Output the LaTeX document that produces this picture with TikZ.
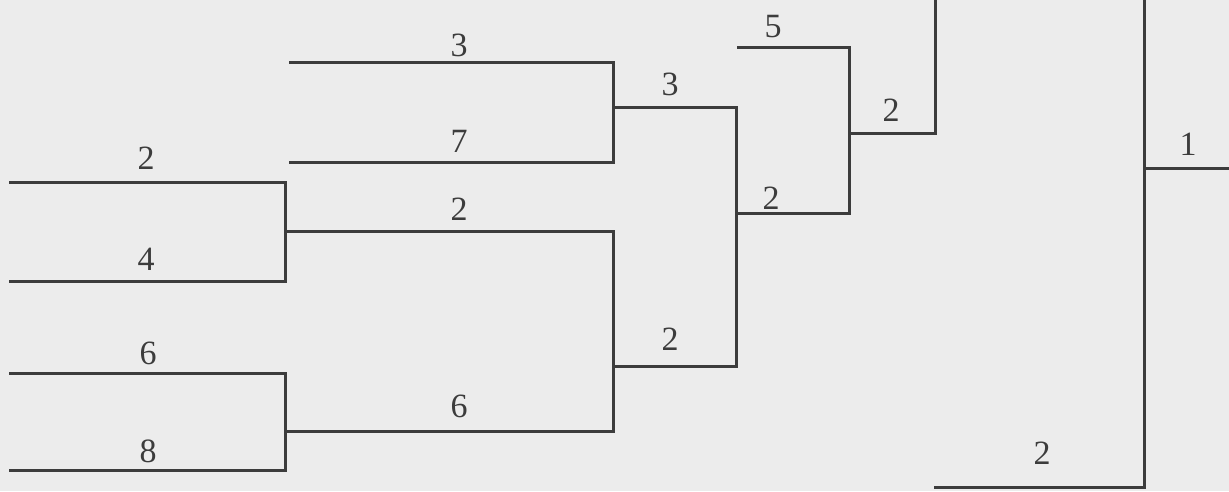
\documentclass[tikz,border=0pt]{standalone}
\usepackage{fontspec}
\setmainfont{Liberation Serif}
\definecolor{bg}{HTML}{ECECEC}
\definecolor{ink}{HTML}{3C3C3C}
\begin{document}
\begin{tikzpicture}[x=1pt,y=-1pt,
  br/.style={draw=ink,line width=3pt,line cap=rect,line join=miter},
  lab/.style={inner sep=0pt,text=ink,font=\fontsize{34}{34}\selectfont}]
\fill[bg] (0,0) rectangle (1229,491);
\useasboundingbox (0,0) rectangle (1229,491);
% round 1
\coordinate (a1) at (10,182);  \coordinate (a1e) at (285,182);
\coordinate (a2) at (10,281);  \coordinate (a2e) at (285,281);
\coordinate (a3) at (10,373);  \coordinate (a3e) at (285,373);
\coordinate (a4) at (10,470);  \coordinate (a4e) at (285,470);
\draw[br] (a1) -- (a1e) -- (a2e) -- (a2);
\draw[br] (a3) -- (a3e) -- (a4e) -- (a4);
% round 2
\coordinate (b1) at (290,62);  \coordinate (b1e) at (613,62);
\coordinate (b2) at (290,162); \coordinate (b2e) at (613,162);
\coordinate (b3) at (285,231); \coordinate (b3e) at (613,231);
\coordinate (b4) at (285,431); \coordinate (b4e) at (613,431);
\draw[br] (b1) -- (b1e) -- (b2e) -- (b2);
\draw[br] (b3) -- (b3e) -- (b4e) -- (b4);
% round 3
\coordinate (c1) at (613,107); \coordinate (c1e) at (736,107);
\coordinate (c2) at (613,366); \coordinate (c2e) at (736,366);
\draw[br] (c1) -- (c1e) -- (c2e) -- (c2);
% round 4
\coordinate (d1) at (738,47);  \coordinate (d1e) at (849,47);
\coordinate (d2) at (736,213); \coordinate (d2e) at (849,213);
\draw[br] (d1) -- (d1e) -- (d2e) -- (d2);
% round 5
\coordinate (e1) at (849,133); \coordinate (e1e) at (935,133);
\coordinate (e1t) at (935,-5);
\draw[br] (e1) -- (e1e) -- (e1t);
% final
\coordinate (f1) at (935,487); \coordinate (f1e) at (1144,487);
\coordinate (f1t) at (1144,-5);
\coordinate (g1) at (1144,168); \coordinate (g1e) at (1235,168);
\draw[br] (f1) -- (f1e) -- (f1t);
\draw[br] (g1) -- (g1e);
% labels
\node[lab] (l1) at (146,158) {2};
\node[lab] (l2) at (146,259) {4};
\node[lab] (l3) at (148,353) {6};
\node[lab] (l4) at (148,451) {8};
\node[lab] (l5) at (459,45) {3};
\node[lab] (l6) at (459,141) {7};
\node[lab] (l7) at (459,209) {2};
\node[lab] (l8) at (459,406) {6};
\node[lab] (l9) at (670,84) {3};
\node[lab] (l10) at (670,339) {2};
\node[lab] (l11) at (771,198) {2};
\node[lab] (l12) at (773,27) {5};
\node[lab] (l13) at (891,110) {2};
\node[lab] (l14) at (1188,144) {1};
\node[lab] (l15) at (1042,453) {2};
\end{tikzpicture}
\end{document}
